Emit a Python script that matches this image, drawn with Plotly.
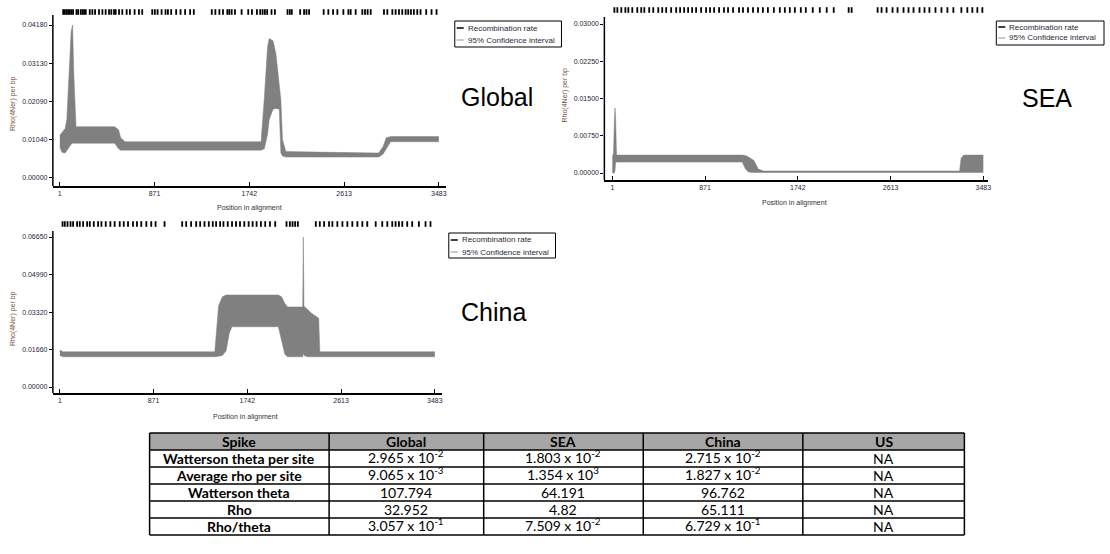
import plotly.graph_objects as go

W, H = 1110, 554

# ---------------- data ----------------
x_ticks = [1, 871, 1742, 2613, 3483]

# Global: 95% confidence band of rho per bp along the alignment
global_pos = [1, 20, 50, 65, 85, 105, 118, 130, 150, 505, 540, 560, 600,
              1850, 1880, 1910, 1925, 1960, 1986, 2017, 2032, 2047, 2078,
              2930, 2970, 3000, 3040, 3483]
global_upper = [0.0117, 0.0125, 0.0135, 0.0160, 0.0300, 0.0400, 0.0418, 0.0280, 0.0140, 0.0140, 0.0132, 0.0110, 0.0099,
                0.0099, 0.0220, 0.0360, 0.0381, 0.0375, 0.0340, 0.0240, 0.0213, 0.0104, 0.0072,
                0.0068, 0.0085, 0.0110, 0.0113, 0.0113]
global_lower = [0.0085, 0.0070, 0.0068, 0.0075, 0.0085, 0.0092, 0.0095, 0.0095, 0.0095, 0.0095, 0.0080, 0.0076, 0.0076,
                0.0076, 0.0080, 0.0120, 0.0160, 0.0188, 0.0190, 0.0188, 0.0068, 0.0060, 0.0057,
                0.0057, 0.0065, 0.0080, 0.0099, 0.0099]
global_yticks = [0.0, 0.0104, 0.0209, 0.0313, 0.0418]
global_yticktext = ["0.00000", "0.01040", "0.02090", "0.03130", "0.04180"]
global_sites = [32, 47, 62, 77, 93, 108, 123, 154, 169, 193, 209, 224, 239, 276, 300, 325, 361, 392, 422,
                453, 474, 499, 514, 545, 575, 615, 645, 688, 728, 758, 850, 874, 899, 936, 972, 994,
                1024, 1070, 1110, 1152, 1198, 1232, 1397, 1430, 1467, 1500, 1540, 1558, 1580, 1610,
                1671, 1732, 1766, 1812, 1842, 1864, 1885, 1906, 1946, 1977, 2093, 2114, 2132, 2209,
                2245, 2267, 2291, 2425, 2468, 2511, 2551, 2606, 2652, 2673, 2719, 2780, 2805, 2829,
                2857, 2979, 3010, 3056, 3086, 3117, 3147, 3178, 3202, 3227, 3254, 3285, 3315, 3367,
                3416, 3462]

# SEA
sea_pos = [1, 12, 20, 26, 32, 40, 1220, 1250, 1280, 1330, 1370, 1420, 3260, 3275, 3300, 3483]
sea_upper = [0.0033, 0.0040, 0.0105, 0.0131, 0.0110, 0.0036, 0.0036, 0.0035, 0.0032, 0.0025, 0.0008, 0.0004,
             0.0004, 0.0030, 0.0036, 0.0036]
sea_lower = [0.0000, 0.0000, 0.0000, 0.0005, 0.0022, 0.0022, 0.0022, 0.0008, 0.0002, 0.0001, 0.0001, 0.0000,
             0.0000, 0.0001, 0.0001, 0.0001]
sea_yticks = [0.0, 0.0075, 0.015, 0.0225, 0.03]
sea_yticktext = ["0.00000", "0.00750", "0.01500", "0.02250", "0.03000"]
sea_sites = [20, 48, 85, 123, 151, 188, 235, 272, 301, 347, 385, 432, 469, 506, 553, 600, 637, 675,
             712, 750, 787, 834, 881, 918, 956, 1003, 1049, 1087, 1134, 1190, 1227, 1274, 1321, 1368,
             1414, 1461, 1517, 1573, 1620, 1667, 1714, 1770, 1817, 1882, 1948, 2013, 2079, 2219, 2247,
             2491, 2528, 2575, 2631, 2678, 2734, 2781, 2828, 2884, 2931, 2977, 3034, 3090, 3146, 3202,
             3277, 3333, 3380, 3427, 3474]

# China
china_pos = [1, 30, 1440, 1455, 1475, 1510, 1545, 1575, 1600, 2030, 2060, 2090, 2115,
             2256, 2262, 2268, 2300, 2335, 2405, 2415, 3483]
china_upper = [0.0164, 0.0156, 0.0156, 0.0240, 0.0360, 0.0400, 0.0408, 0.0408, 0.0408, 0.0408, 0.0400, 0.0370, 0.0355,
               0.0355, 0.0665, 0.0358, 0.0345, 0.0328, 0.0305, 0.0156, 0.0156]
china_lower = [0.0140, 0.0134, 0.0134, 0.0134, 0.0136, 0.0140, 0.0160, 0.0240, 0.0267, 0.0267, 0.0200, 0.0145, 0.0134,
               0.0134, 0.0150, 0.0140, 0.0134, 0.0134, 0.0134, 0.0134, 0.0134]
china_yticks = [0.0, 0.0166, 0.0332, 0.0499, 0.0665]
china_yticktext = ["0.00000", "0.01660", "0.03320", "0.04990", "0.06650"]
china_sites = [26, 47, 72, 100, 124, 161, 186, 217, 254, 279, 316, 356, 387, 427, 470, 510, 557, 594,
               634, 680, 717, 757, 804, 850, 890, 973, 1137, 1174, 1220, 1267, 1304, 1344, 1384, 1421,
               1452, 1489, 1520, 1560, 1600, 1637, 1674, 1714, 1754, 1791, 1828, 1868, 1908, 1952,
               2001, 2106, 2137, 2162, 2186, 2211, 2378, 2415, 2455, 2501, 2532, 2578, 2625, 2671,
               2717, 2764, 2810, 2856, 2934, 2995, 3042, 3088, 3119, 3150, 3181, 3227, 3273, 3335,
               3397, 3443]

# Summary table
table_header = ["Spike", "Global", "SEA", "China", "US"]
table_rows = ["Watterson theta per site", "Average rho per site", "Watterson theta", "Rho", "Rho/theta"]
table_global = ["2.965 x 10<sup>-2</sup>", "9.065 x 10<sup>-3</sup>", "107.794", "32.952", "3.057 x 10<sup>-1</sup>"]
table_sea = ["1.803 x 10<sup>-2</sup>", "1.354 x 10<sup>3</sup>", "64.191", "4.82", "7.509 x 10<sup>-2</sup>"]
table_china = ["2.715 x 10<sup>-2</sup>", "1.827 x 10<sup>-2</sup>", "96.762", "65.111", "6.729 x 10<sup>-1</sup>"]
table_us = ["NA", "NA", "NA", "NA", "NA"]

# ---------------- helpers ----------------
def fx(x):
    return x / W


def fy(y):
    return 1 - y / H


BAND = "#808080"
SANS = "Liberation Sans, Arial"
TICKFONT = dict(family=SANS, size=7, color="#26263a")
TITLEFONT = dict(family=SANS, size=7, color="#333333")

fig = go.Figure()
annotations = []
shapes = []

panels = [
    # name, axis suffix, pos, upper, lower, sites, rug level, yticks, ytext,
    # x-domain px, y-domain px, y-axis line span px, xrange, yrange
    ("Global", "", global_pos, global_upper, global_lower, global_sites, 0.04535,
     global_yticks, global_yticktext, (53, 447), (8, 186), (15, 186), (-63, 3547), (-0.0022, 0.04645)),
    ("SEA", "2", sea_pos, sea_upper, sea_lower, sea_sites, 0.03282,
     sea_yticks, sea_yticktext, (606, 991), (5, 180), (17, 180), (-74, 3530), (-0.00141, 0.03383)),
    ("China", "3", china_pos, china_upper, china_lower, china_sites, 0.07226,
     china_yticks, china_yticktext, (53, 443), (219, 393), (231, 393), (-64, 3548), (-0.00266, 0.07448)),
]

layout_axes = {}
for name, sfx, pos, up, lo, sites, rug, yt, ytt, xd, yd, yl, xr, yr in panels:
    xa, ya = "x" + sfx, "y" + sfx
    fig.add_trace(go.Scatter(x=pos, y=lo, mode="lines", line=dict(color=BAND, width=0.5),
                             xaxis=xa, yaxis=ya, showlegend=False, hoverinfo="skip"))
    fig.add_trace(go.Scatter(x=pos, y=up, mode="lines", line=dict(color=BAND, width=0.5),
                             fill="tonexty", fillcolor=BAND,
                             xaxis=xa, yaxis=ya, showlegend=False, name=name))
    fig.add_trace(go.Scatter(x=sites, y=[rug] * len(sites), mode="markers",
                             marker=dict(symbol="line-ns", size=4, color="black",
                                         line=dict(color="black", width=1.8)),
                             cliponaxis=False, xaxis=xa, yaxis=ya, showlegend=False, hoverinfo="skip"))
    layout_axes["xaxis" + sfx] = dict(
        domain=[fx(xd[0]), fx(xd[1])], range=list(xr), anchor=ya,
        tickvals=x_ticks, ticktext=[str(v) for v in x_ticks],
        ticks="inside", ticklen=4, tickwidth=1, tickcolor="black",
        showline=True, linecolor="black", linewidth=1.5,
        showgrid=False, zeroline=False, tickfont=TICKFONT)
    layout_axes["yaxis" + sfx] = dict(
        domain=[fy(yd[1]), fy(yd[0])], range=list(yr), anchor=xa,
        tickvals=yt, ticktext=ytt,
        ticks="outside", ticklen=3, tickwidth=1, tickcolor="black",
        showline=False, showgrid=False, zeroline=False, tickfont=TICKFONT)
    # vertical axis line stops just above the top tick
    shapes.append(dict(type="line", xref="paper", yref="paper",
                       x0=fx(xd[0]), x1=fx(xd[0]), y0=fy(yl[1]), y1=fy(yl[0]),
                       line=dict(color="black", width=1.5)))

# axis titles
for (xc, yc) in [(250, 208), (797, 203), (246, 417)]:
    annotations.append(dict(x=fx(xc), y=fy(yc), xref="paper", yref="paper", text="Position in alignment",
                            showarrow=False, font=TITLEFONT, xanchor="center", yanchor="middle"))
for (xc, yc) in [(13, 103), (567, 95), (13, 318)]:
    annotations.append(dict(x=fx(xc), y=fy(yc), xref="paper", yref="paper", text="Rho(4Ner) per bp",
                            showarrow=False, textangle=-90,
                            font=dict(family=SANS, size=7, color="#7a4a3c"),
                            xanchor="center", yanchor="middle"))

# panel names
for (txt, xc, yc) in [("Global", 498, 97), ("SEA", 1050, 98), ("China", 495, 312)]:
    annotations.append(dict(x=fx(xc), y=fy(yc), xref="paper", yref="paper", text=txt, showarrow=False,
                            font=dict(family=SANS, size=25, color="black"),
                            xanchor="center", yanchor="middle"))

# legend boxes
for (x0, y0, x1, y1, l1, l2) in [(456, 21, 563, 47, 28, 40), (999, 21, 1107, 45, 27, 38),
                                 (450, 233, 557, 258, 240, 252)]:
    shapes.append(dict(type="rect", xref="paper", yref="paper", x0=fx(x0), x1=fx(x1), y0=fy(y1), y1=fy(y0),
                       line=dict(color="black", width=1), fillcolor="white", layer="above"))
    shapes.append(dict(type="line", xref="paper", yref="paper", x0=fx(x0 + 2), x1=fx(x0 + 9),
                       y0=fy(l1), y1=fy(l1), line=dict(color="black", width=1.5)))
    shapes.append(dict(type="line", xref="paper", yref="paper", x0=fx(x0 + 2), x1=fx(x0 + 9),
                       y0=fy(l2), y1=fy(l2), line=dict(color="#909090", width=1)))
    annotations.append(dict(x=fx(x0 + 11), y=fy(l1), xref="paper", yref="paper", text="Recombination rate",
                            showarrow=False, xanchor="left", yanchor="middle",
                            font=dict(family=SANS, size=8, color="#2a2a3a")))
    annotations.append(dict(x=fx(x0 + 11), y=fy(l2), xref="paper", yref="paper", text="95% Confidence interval",
                            showarrow=False, xanchor="left", yanchor="middle",
                            font=dict(family=SANS, size=8, color="#2a2a3a")))

# summary table: grid lines, header fill and cell texts
col_edges = [150, 330, 485, 645, 805, 967]
row_edges = [433, 450, 467, 484, 501, 518, 535]
TFONT = "Lato, Carlito, Calibri"
shapes.append(dict(type="rect", xref="paper", yref="paper", x0=fx(col_edges[0]), x1=fx(col_edges[-1]),
                   y0=fy(row_edges[1]), y1=fy(row_edges[0]), fillcolor="#a6a6a6", line=dict(width=0),
                   layer="below"))
for xe in col_edges:
    shapes.append(dict(type="line", xref="paper", yref="paper", x0=fx(xe), x1=fx(xe),
                       y0=fy(row_edges[-1]), y1=fy(row_edges[0]), line=dict(color="black", width=1.5)))
for ye in row_edges:
    shapes.append(dict(type="line", xref="paper", yref="paper", x0=fx(col_edges[0]), x1=fx(col_edges[-1]),
                       y0=fy(ye), y1=fy(ye), line=dict(color="black", width=1.5)))

columns = [
    [table_header[0]] + table_rows,
    [table_header[1]] + table_global,
    [table_header[2]] + table_sea,
    [table_header[3]] + table_china,
    [table_header[4]] + table_us,
]
for ci, col in enumerate(columns):
    xc = (col_edges[ci] + col_edges[ci + 1]) / 2
    for ri, txt in enumerate(col):
        yc = (row_edges[ri] + row_edges[ri + 1]) / 2
        bold = ri == 0 or ci == 0
        # superscripts enlarge the text box upwards, so lift those cells
        dy = -2.5 if "<sup>" in txt else 0.0
        annotations.append(dict(x=fx(xc), y=fy(yc + dy), xref="paper", yref="paper",
                                text="<b>%s</b>" % txt if bold else txt, showarrow=False,
                                xanchor="center", yanchor="middle",
                                font=dict(family=TFONT, size=14, color="black")))

fig.update_layout(
    width=W, height=H, margin=dict(l=0, r=0, t=0, b=0),
    paper_bgcolor="white", plot_bgcolor="white",
    showlegend=False, annotations=annotations, shapes=shapes,
    **layout_axes,
)

fig.write_html("out.html")
